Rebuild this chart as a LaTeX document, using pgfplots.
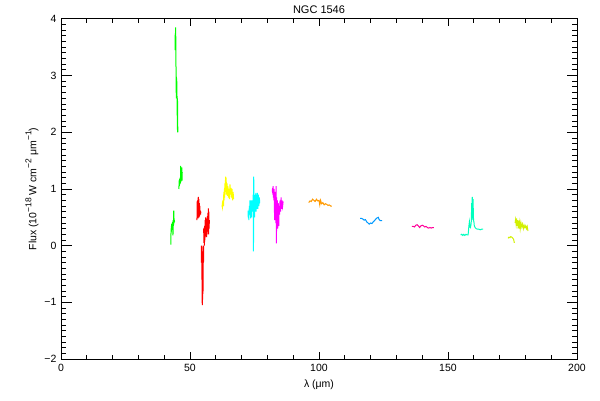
\documentclass[border=0pt]{standalone}
\usepackage{fontspec}
\setmainfont{Liberation Sans}
\usepackage{pgfplots}
\pgfplotsset{compat=1.18}
\definecolor{cgreen}{RGB}{0,255,0}
\definecolor{cred}{RGB}{255,0,0}
\definecolor{cyellow}{RGB}{255,255,0}
\definecolor{ccyan}{RGB}{0,255,255}
\definecolor{cmag}{RGB}{255,0,255}
\definecolor{corange}{RGB}{255,153,0}
\definecolor{cblue}{RGB}{0,153,255}
\definecolor{cpink}{RGB}{255,0,153}
\definecolor{cteal}{RGB}{0,255,190}
\definecolor{cyg}{RGB}{210,240,0}
\newcommand{\sps}[1]{\raisebox{0.9ex}{\fontsize{8.5}{9}\selectfont #1}}
\begin{document}
\begin{tikzpicture}
\path[use as bounding box] (0,0) rectangle (600pt,400pt);
\begin{axis}[
  at={(61pt,41pt)}, anchor=south west,
  scale only axis, width=516pt, height=340pt,
  xmin=0, xmax=200, ymin=-2, ymax=4,
  axis line style={line width=1pt},
  xtick={0,50,100,150,200},
  ytick={-2,-1,0,1,2,3,4},
  yticklabels={−2,−1,0,1,2,3,4},
  xticklabels={0,50,100,150,200},
  minor x tick num=4, minor y tick num=9,
  tick align=inside,
  tick style={line width=1pt, black},
  xtick style={/pgfplots/major tick length=7pt,/pgfplots/minor tick length=3.7pt},
  ytick style={/pgfplots/major tick length=10.5pt,/pgfplots/minor tick length=5.3pt},
  tick label style={font=\fontsize{10.5}{12}\selectfont},
  xticklabel style={yshift=-2pt},
  yticklabel style={xshift=-1pt},
  xlabel={λ (μm)},
  ylabel={Flux (10\sps{−18} W cm\sps{−2} μm\sps{−1})},
  label style={font=\fontsize{10.5}{12}\selectfont},
  xlabel style={at={(axis description cs:0.5,-0.076)}, anchor=center},
  ylabel style={at={(axis description cs:-0.056,0.5)}, anchor=center},
  title={NGC 1546},
  title style={at={(axis description cs:0.5,1.027)}, anchor=center, yshift=-6pt, font=\fontsize{11}{12}\selectfont},
  every axis plot/.append style={line width=1pt, no marks},
]
% green
\addplot[cgreen] coordinates {(42.6,0.02)(42.65,0.30)(42.7,0.22)(42.75,0.35)(42.8,0.25)(42.9,0.38)(43.0,0.28)(43.1,0.40)(43.2,0.33)(43.3,0.42)(43.4,0.18)(43.5,0.45)(43.6,0.35)(43.7,0.62)(43.8,0.40)(43.9,0.45)(44.0,0.42)};
\addplot[cgreen] coordinates {(44.2,3.45)(44.25,3.72)(44.3,3.5)(44.35,3.75)(44.4,3.6)(44.45,3.85)(44.5,3.55)(44.55,3.3)(44.6,3.0)(44.65,2.7)(44.7,2.98)(44.75,2.6)(44.8,2.95)(44.85,2.62)(44.9,2.9)(44.95,2.65)(45.0,2.6)(45.05,2.3)(45.1,2.6)(45.15,2.05)(45.2,2.55)(45.25,2.0)(45.3,2.1)};
\addplot[cgreen] coordinates {(45.7,1.0)(45.8,1.15)(45.9,1.05)(46.0,1.18)(46.1,1.08)(46.2,1.2)(46.3,1.1)(46.4,1.41)(46.5,1.12)(46.6,1.35)(46.7,1.15)(46.8,1.38)(46.9,1.15)(47.0,1.3)};
% red
\addplot[cred] coordinates {(52.7,0.45)(52.8,0.78)(52.9,0.5)(53.0,0.8)(53.1,0.48)(53.2,0.86)(53.3,0.55)(53.4,0.82)(53.5,0.5)(53.6,0.75)(53.7,0.52)(53.8,0.7)(53.9,0.55)(54.0,0.62)(54.1,0.55)(54.2,0.6)};
\addplot[cred] coordinates {(54.4,0.0)(54.45,-0.3)(54.5,-0.02)(54.55,-0.28)(54.6,-0.1)(54.65,-0.6)(54.7,-0.3)(54.75,-1.05)(54.8,-0.5)(54.85,-0.95)(54.9,-0.35)(54.95,-0.85)(55.0,-0.25)(55.05,-0.8)(55.1,0.0)(55.15,-0.3)(55.2,-0.05)(55.25,-0.28)(55.3,0.0)};
\addplot[cred] coordinates {(55.3,0.3)(55.4,0.05)(55.5,0.32)(55.6,0.0)(55.7,0.35)(55.8,0.1)(55.9,0.45)(56.0,0.2)(56.1,0.5)(56.2,0.25)(56.3,0.42)(56.4,0.15)(56.5,0.38)(56.6,0.2)(56.7,0.52)(56.8,0.25)(56.9,0.58)(57.0,0.3)(57.1,0.66)(57.2,0.2)(57.3,0.6)(57.4,0.3)(57.5,0.45)};
% yellow
\addplot[cyellow] coordinates {(62.4,0.68)(62.5,0.72)(62.6,0.68)(62.8,0.75)(63.0,0.7)(63.1,0.95)(63.2,0.8)(63.3,1.0)(63.4,0.85)(63.5,1.1)(63.6,0.9)(63.8,1.22)(63.9,0.95)(64.0,1.2)(64.2,0.9)(64.4,1.1)(64.5,0.88)(64.7,1.05)(64.9,0.85)(65.1,1.0)(65.3,0.82)(65.5,1.08)(65.7,0.9)(65.9,1.02)(66.1,0.85)(66.3,1.0)(66.5,0.8)(66.7,0.95)(66.9,0.82)};
% cyan
\addplot[ccyan] coordinates {(72.5,0.62)(72.6,0.48)(72.7,0.6)(72.8,0.45)(73.0,0.7)(73.1,0.55)(73.2,0.8)(73.3,0.6)(73.4,0.75)(73.5,0.48)(73.6,0.8)(73.7,0.6)(73.8,0.78)(73.9,0.5)(74.0,0.8)(74.1,0.6)(74.2,0.75)(74.3,0.6)(74.5,0.9)(74.6,-0.1)(74.7,1.22)(74.8,0.6)(74.9,0.9)(75.0,0.5)(75.2,0.85)(75.3,0.6)(75.5,0.93)(75.6,0.6)(75.8,0.9)(76.0,0.65)(76.1,0.93)(76.3,0.65)(76.5,0.9)(76.7,0.7)(76.9,0.85)(77.0,0.75)};
% magenta
\addplot[cmag] coordinates {(81.9,0.95)(82.0,1.02)(82.1,0.9)(82.2,1.05)(82.3,0.85)(82.4,0.98)(82.5,0.8)(82.6,1.0)(82.8,0.45)(82.9,0.95)(83.0,0.5)(83.2,0.9)(83.3,0.4)(83.4,1.05)(83.5,0.04)(83.6,0.85)(83.7,0.45)(83.9,0.8)(84.0,0.3)(84.2,0.75)(84.4,0.35)(84.5,0.7)(84.7,0.55)(84.9,0.8)(85.1,0.6)(85.3,0.85)(85.5,0.65)(85.7,0.8)(85.9,0.7)(86.1,0.78)};
% orange
\addplot[corange] coordinates {(96.0,0.76)(96.5,0.79)(97.0,0.78)(97.5,0.82)(98.0,0.80)(98.5,0.78)(99.0,0.82)(99.5,0.79)(100.0,0.80)(100.3,0.72)(100.6,0.80)(101.0,0.74)(101.5,0.76)(102.0,0.72)(102.5,0.74)(103.0,0.73)(103.5,0.71)(104.0,0.72)(104.5,0.70)(105.0,0.70)};
% blue
\addplot[cblue] coordinates {(115.9,0.48)(116.5,0.48)(117.0,0.47)(117.5,0.45)(118.0,0.46)(118.5,0.42)(119.0,0.40)(119.5,0.38)(120.0,0.40)(120.5,0.39)(121.0,0.42)(121.5,0.44)(122.0,0.47)(122.5,0.49)(123.0,0.50)(123.3,0.46)(123.8,0.44)(124.5,0.44)};
% pink
\addplot[cpink] coordinates {(136.0,0.34)(136.5,0.34)(137.0,0.33)(137.5,0.36)(138.0,0.37)(138.5,0.35)(139.0,0.32)(139.5,0.35)(140.0,0.36)(140.5,0.35)(141.0,0.33)(141.5,0.34)(142.0,0.32)(142.5,0.31)(143.0,0.32)(143.5,0.31)(144.0,0.32)(144.5,0.32)};
% teal
\addplot[cteal] coordinates {(154.9,0.19)(155.3,0.20)(155.7,0.18)(156.1,0.20)(156.5,0.18)(157.0,0.20)(157.4,0.19)(157.8,0.19)(158.1,0.35)(158.3,0.42)(158.5,0.33)(158.7,0.32)(159.0,0.40)(159.2,0.75)(159.3,0.45)(159.4,0.86)(159.5,0.55)(159.7,0.82)(159.9,0.45)(160.1,0.40)(160.2,0.35)(160.5,0.32)(160.9,0.30)(161.5,0.29)(162.0,0.29)(162.5,0.28)(163.0,0.29)(163.6,0.29)};
% yellow-green
\addplot[cyg] coordinates {(173.3,0.13)(173.6,0.15)(174.0,0.14)(174.3,0.16)(174.7,0.15)(175.0,0.14)(175.3,0.12)(175.5,0.10)(175.7,0.05)};
\addplot[cyg] coordinates {(176.0,0.40)(176.2,0.46)(176.4,0.38)(176.6,0.48)(176.8,0.35)(177.0,0.45)(177.2,0.30)(177.4,0.44)(177.6,0.36)(177.8,0.42)(178.0,0.30)(178.3,0.40)(178.6,0.33)(178.9,0.38)(179.2,0.30)(179.5,0.36)(179.8,0.32)(180.1,0.35)(180.4,0.30)(180.7,0.34)(181.0,0.26)};
\end{axis}
\end{tikzpicture}
\end{document}
